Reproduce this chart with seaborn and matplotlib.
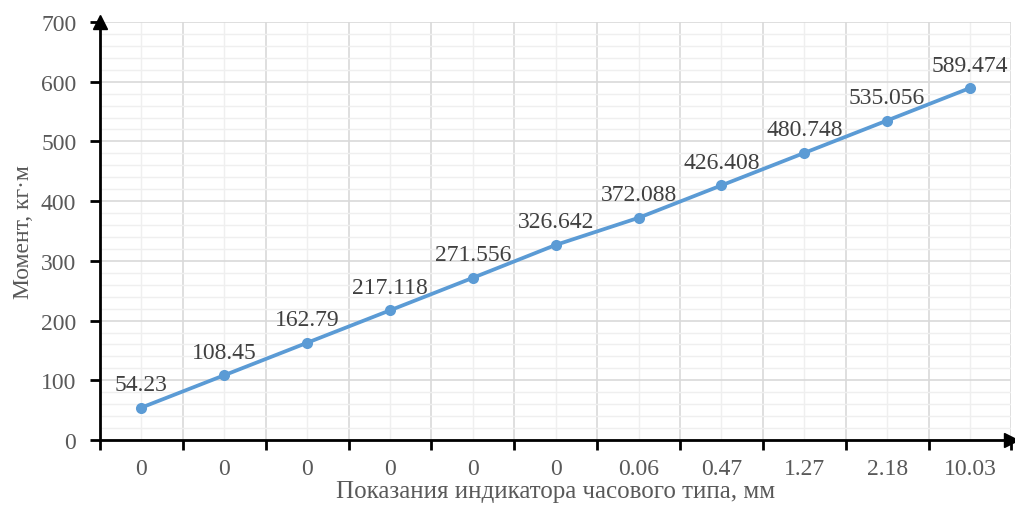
import numpy as np
import pandas as pd
import matplotlib
matplotlib.use("Agg")
import matplotlib.pyplot as plt
import seaborn as sns
from matplotlib.ticker import MultipleLocator, FixedLocator

# data
indicator = ["0", "0", "0", "0", "0", "0", "0.06", "0.47", "1.27", "2.18", "10.03"]
moment = [54.23, 108.45, 162.79, 217.118, 271.556, 326.642,
          372.088, 426.408, 480.748, 535.056, 589.474]
point_labels = ["54.23", "108.45", "162.79", "217.118", "271.556", "326.642",
                "372.088", "426.408", "480.748", "535.056", "589.474"]

df = pd.DataFrame({"pos": np.arange(len(indicator)), "moment": moment})

sns.set_style("white")
plt.rcParams["font.family"] = ["Liberation Serif", "DejaVu Serif"]
text_color = "#595959"

fig = plt.figure(figsize=(10.15, 5.06), dpi=100)
ax = fig.add_axes([0.0985, 0.1285, 0.898, 0.826])

sns.lineplot(data=df, x="pos", y="moment", ax=ax, color="#5B9BD5",
             linewidth=2.7, marker="o", markersize=8, markeredgewidth=0,
             zorder=3)

for x, y, lab in zip(df["pos"], df["moment"], point_labels):
    ax.annotate(lab, (x, y), xytext=(0, 9), textcoords="offset points",
                ha="center", va="bottom", fontsize=17, color="#404040")

ax.set_xlim(-0.5, len(indicator) - 0.5)
ax.set_ylim(0, 700)

# y grid: majors every 100, minors every 20
ax.yaxis.set_major_locator(MultipleLocator(100))
ax.yaxis.set_minor_locator(MultipleLocator(20))
# x: boundaries as majors (ticks), centers as minors (labels)
ax.xaxis.set_major_locator(FixedLocator(np.arange(-0.5, len(indicator), 1.0)))
ax.xaxis.set_minor_locator(FixedLocator(np.arange(len(indicator))))
ax.set_xticklabels([])
ax.set_xticklabels(indicator, minor=True)

ax.grid(which="major", color="#d9d9d9", linewidth=1.2)
ax.grid(which="minor", color="#efefef", linewidth=1.0)
ax.set_axisbelow(True)

ax.tick_params(axis="x", which="major", direction="out", length=7, width=2,
               color="black", bottom=True)
ax.tick_params(axis="x", which="minor", length=0, labelsize=17,
               labelcolor=text_color, pad=13)
ax.tick_params(axis="y", which="major", direction="out", length=7, width=2,
               color="black", left=True, labelsize=17, labelcolor=text_color, pad=10)
ax.tick_params(axis="y", which="minor", length=0)

for side in ["top", "right"]:
    ax.spines[side].set_visible(False)
for side in ["left", "bottom"]:
    ax.spines[side].set_color("black")
    ax.spines[side].set_linewidth(2)

# axis arrows
ax.plot(1, 0, ">", color="black", markersize=10, transform=ax.transAxes, clip_on=False)
ax.plot(0, 1, "^", color="black", markersize=10, transform=ax.transAxes, clip_on=False)

ax.set_xlabel("Показания индикатора часового типа, мм", fontsize=18,
              color=text_color, labelpad=1)
ax.set_ylabel("Момент, кг·м", fontsize=17, color=text_color, labelpad=5)

fig.savefig("out.png", dpi=100)
